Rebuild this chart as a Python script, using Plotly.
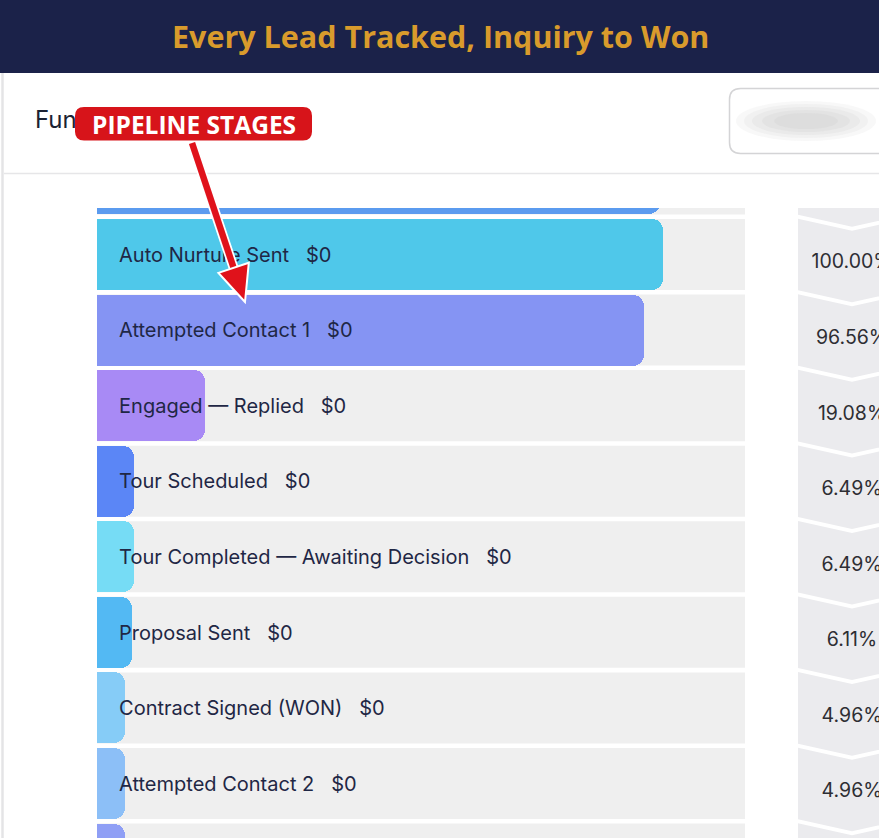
import plotly.graph_objects as go

# ---------------- data ----------------
stages = ["", "Auto Nurture Sent", "Attempted Contact 1", "Engaged — Replied",
          "Tour Scheduled", "Tour Completed — Awaiting Decision", "Proposal Sent",
          "Contract Signed (WON)", "Attempted Contact 2", ""]
amounts = ["", "$0", "$0", "$0", "$0", "$0", "$0", "$0", "$0", ""]
bar_share = [99.5, 100.0, 96.56, 19.08, 6.49, 6.49, 6.11, 4.96, 4.96, 4.96]
pct_labels = ["", "100.00%", "96.56%", "19.08%", "6.49%", "6.49%", "6.11%",
              "4.96%", "4.96%", ""]
bar_colors = ["#5b9bef", "#4fc8ea", "#8594f3", "#a88af5", "#5b86f6",
              "#76dcf5", "#53b9f3", "#86ccf7", "#8cbff7", "#8f9ff5"]

title_text = "Every Lead Tracked, Inquiry to Won"
header_text = "Funnel"
callout_text = "PIPELINE STAGES"

# ---------------- layout constants ----------------
W, H = 879, 838
def fx(px):
    return px / W
def fy(py):
    return 1 - py / H

ROW_PX = 75.57
PLOT_TOP = 208
Y0 = 0.385                      # row coordinate at top of plot area
Y1 = Y0 + (H - PLOT_TOP) / ROW_PX
XMAX = 114.49                   # data span of the bar area
LABEL_X = 3.9
BAR_W = 0.94

idx = list(range(len(stages)))

fig = go.Figure()

# funnel bars
fig.add_trace(go.Bar(
    y=idx, x=bar_share, orientation="h", width=BAR_W,
    marker=dict(color=bar_colors, line=dict(width=0), cornerradius=11),
    hoverinfo="skip", showlegend=False))

# stage labels
lab = [f"{s}\u00a0\u00a0\u00a0{a}" if s else "" for s, a in zip(stages, amounts)]
fig.add_trace(go.Scatter(
    y=[i + 0.03 for i in idx], x=[LABEL_X] * len(idx), mode="text", text=lab,
    textposition="middle right",
    textfont=dict(family="Inter, sans-serif", size=20, color="#1f2745"),
    hoverinfo="skip", showlegend=False))

# percentage column (chevron blocks)
g = 4 / ROW_PX
d = 12 / ROW_PX
px_, py_ = [], []
for i in idx:
    top = i - 0.5 + g / 2
    bot = i + 0.5 - g / 2
    px_ += [0, 0.5, 1, 1, 0.5, 0, 0, None]
    py_ += [top, top + d, top, bot, bot + d, bot, top, None]
fig.add_trace(go.Scatter(
    x=px_, y=py_, xaxis="x2", yaxis="y", mode="lines", fill="toself",
    fillcolor="#ebebee", line=dict(width=0), hoverinfo="skip", showlegend=False))
fig.add_trace(go.Scatter(
    x=[0.5] * len(idx), y=[i + 0.12 for i in idx], xaxis="x2", yaxis="y",
    mode="text", text=pct_labels, textposition="middle center",
    textfont=dict(family="Inter, sans-serif", size=19.5, color="#2e2e33"),
    hoverinfo="skip", showlegend=False))

# header text (drawn as a trace so the callout shape can cover it)
fig.add_trace(go.Scatter(
    x=[35], y=[122], xaxis="x3", yaxis="y3", mode="text", text=[header_text],
    textposition="middle right",
    textfont=dict(family="Inter, sans-serif", size=24, color="#1b2233"),
    hoverinfo="skip", showlegend=False))

def rrect(x0, y0, x1, y1, r):
    return (f"M {fx(x0+r)},{fy(y0)} L {fx(x1-r)},{fy(y0)} "
            f"Q {fx(x1)},{fy(y0)} {fx(x1)},{fy(y0+r)} L {fx(x1)},{fy(y1-r)} "
            f"Q {fx(x1)},{fy(y1)} {fx(x1-r)},{fy(y1)} L {fx(x0+r)},{fy(y1)} "
            f"Q {fx(x0)},{fy(y1)} {fx(x0)},{fy(y1-r)} L {fx(x0)},{fy(y0+r)} "
            f"Q {fx(x0)},{fy(y0)} {fx(x0+r)},{fy(y0)} Z")

shapes = []
# row backgrounds (one per stage, clipped to the plot area)
for i in idx:
    shapes.append(dict(type="rect", xref="x", yref="y", x0=0, x1=XMAX,
                       y0=i - BAR_W / 2, y1=i + BAR_W / 2,
                       fillcolor="#efefef", line=dict(width=0), layer="below"))
# banner
shapes.append(dict(type="rect", xref="paper", yref="paper", x0=0, x1=1,
                   y0=fy(73), y1=1, fillcolor="#1b2249", line=dict(width=0),
                   layer="below"))
# card left border + separator
shapes.append(dict(type="line", xref="paper", yref="paper", x0=fx(2.5), x1=fx(2.5),
                   y0=0, y1=fy(73), line=dict(color="#e4e4e6", width=2.5), layer="below"))
shapes.append(dict(type="line", xref="paper", yref="paper", x0=fx(4), x1=1,
                   y0=fy(173.5), y1=fy(173.5), line=dict(color="#e6e6e8", width=1.5),
                   layer="below"))
# right selector box with blurred content
shapes.append(dict(type="path", xref="paper", yref="paper",
                   path=rrect(729.5, 88.5, 905, 153.5, 11), fillcolor="#ffffff",
                   line=dict(color="#d4d4d6", width=1.5), layer="below"))
for rx, ry, op in [(70, 20, 0.14), (62, 17, 0.18), (54, 14, 0.22), (44, 11, 0.26), (32, 8, 0.3)]:
    shapes.append(dict(type="circle", xref="paper", yref="paper",
                       x0=fx(806 - rx), x1=fx(806 + rx), y0=fy(121 + ry), y1=fy(121 - ry),
                       fillcolor="#d0d0d0", opacity=op, line=dict(width=0), layer="below"))
# callout label
shapes.append(dict(type="path", xref="paper", yref="paper",
                   path=rrect(75, 107, 312, 140.5, 9), fillcolor="#d7141a",
                   line=dict(width=0), layer="above"))
# arrow (white outline then red)
sx, sy = 192, 143
tx, ty = 245, 302
L = ((tx - sx) ** 2 + (ty - sy) ** 2) ** 0.5
ux, uy = (tx - sx) / L, (ty - sy) / L
hl, hw = 36, 16
bx, by = tx - hl * ux, ty - hl * uy
pxp, pyp = -uy, ux
c1 = (bx + hw * pxp, by + hw * pyp)
c2 = (bx - hw * pxp, by - hw * pyp)
shapes.append(dict(type="line", xref="paper", yref="paper",
                   x0=fx(sx), y0=fy(sy), x1=fx(bx + 2 * ux), y1=fy(by + 2 * uy),
                   line=dict(color="#ffffff", width=10), layer="above"))
shapes.append(dict(type="line", xref="paper", yref="paper",
                   x0=fx(sx), y0=fy(sy), x1=fx(bx + 2 * ux), y1=fy(by + 2 * uy),
                   line=dict(color="#e0121b", width=6.5), layer="above"))
shapes.append(dict(type="path", xref="paper", yref="paper",
                   path=f"M {fx(tx)},{fy(ty)} L {fx(c1[0])},{fy(c1[1])} L {fx(c2[0])},{fy(c2[1])} Z",
                   fillcolor="#e0121b", line=dict(color="#ffffff", width=2), layer="above"))

annotations = [
    dict(xref="paper", yref="paper", x=fx(440), y=fy(36), xanchor="center", yanchor="middle",
         text=f"<b>{title_text}</b>", showarrow=False,
         font=dict(family="Open Sans, sans-serif", size=30.5, color="#d99b2c")),
    dict(xref="paper", yref="paper", x=fx(193.5), y=fy(124.5), xanchor="center",
         yanchor="middle", text=f"<b>{callout_text}</b>", showarrow=False,
         font=dict(family="Open Sans, sans-serif", size=24.5, color="#ffffff")),
]

fig.update_layout(
    width=W, height=H, margin=dict(l=0, r=0, t=0, b=0),
    paper_bgcolor="#ffffff", plot_bgcolor="rgba(0,0,0,0)",
    bargap=0, showlegend=False,
    xaxis=dict(domain=[fx(97), fx(745)], range=[0, XMAX], visible=False, fixedrange=True),
    yaxis=dict(domain=[0, fy(PLOT_TOP)], range=[Y1, Y0], visible=False, fixedrange=True),
    xaxis2=dict(domain=[fx(798), 1], range=[0, 0.75], anchor="y", visible=False),
    xaxis3=dict(domain=[0, 1], range=[0, W], anchor="y3", visible=False),
    yaxis3=dict(domain=[0, 1], range=[H, 0], anchor="x3", visible=False),
    shapes=shapes, annotations=annotations,
)

fig.write_html("out.html", config={"displayModeBar": False},
               post_script="document.body.style.margin='0px';")
